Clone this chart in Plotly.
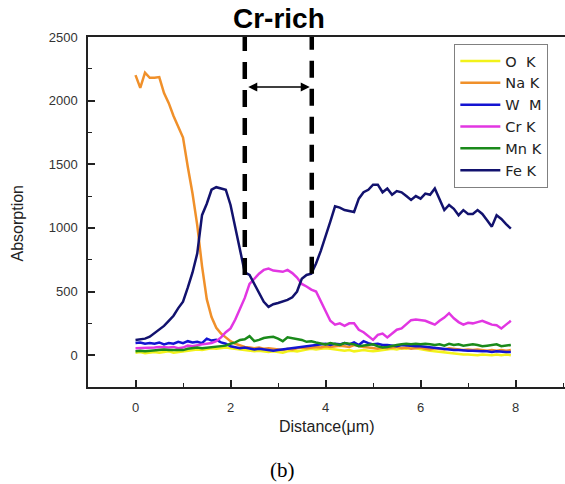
import plotly.graph_objects as go

distance = [0.0, 0.1, 0.2, 0.3, 0.4, 0.5, 0.6, 0.7, 0.8, 0.9,
            1.0, 1.1, 1.2, 1.3, 1.4, 1.5, 1.6, 1.7, 1.8, 1.9,
            2.0, 2.1, 2.2, 2.3, 2.4, 2.5, 2.6, 2.7, 2.8, 2.9,
            3.0, 3.1, 3.2, 3.3, 3.4, 3.5, 3.6, 3.7, 3.8, 3.9,
            4.0, 4.1, 4.2, 4.3, 4.4, 4.5, 4.6, 4.7, 4.8, 4.9,
            5.0, 5.1, 5.2, 5.3, 5.4, 5.5, 5.6, 5.7, 5.8, 5.9,
            6.0, 6.1, 6.2, 6.3, 6.4, 6.5, 6.6, 6.7, 6.8, 6.9,
            7.0, 7.1, 7.2, 7.3, 7.4, 7.5, 7.6, 7.7, 7.8, 7.9]

o_k = [20, 25, 15, 20, 25, 20, 25, 30, 20, 25,
       30, 35, 40, 45, 40, 50, 55, 50, 55, 60,
       55, 50, 45, 40, 35, 30, 35, 30, 25, 30,
       25, 20, 30, 35, 30, 40, 45, 50, 45, 50,
       55, 50, 45, 40, 35, 40, 30, 35, 40, 35,
       30, 35, 40, 45, 50, 45, 55, 50, 60, 55,
       45, 40, 35, 30, 25, 20, 15, 10, 10, 5,
       5, 0, 0, 5, 0, 0, 5, 0, 5, 0]

na_k = [2200, 2100, 2220, 2180, 2180, 2185, 2060, 1980, 1880, 1800,
        1710, 1480, 1270, 1020, 700, 440, 300, 215, 170, 140,
        110, 90, 75, 65, 60, 55, 60, 50, 55, 50,
        45, 40, 50, 45, 55, 60, 55, 60, 65, 60,
        70, 65, 70, 75, 70, 65, 80, 70, 65, 60,
        55, 50, 60, 55, 60, 65, 55, 60, 50, 55,
        60, 50, 45, 55, 50, 45, 55, 50, 45, 40,
        45, 40, 45, 40, 35, 40, 35, 40, 35, 40]

w_m = [95, 100, 90, 95, 90, 100, 85, 95, 90, 105,
       95, 110, 100, 105, 95, 130, 115, 120, 100, 90,
       70, 60, 55, 60, 55, 45, 50, 45, 40, 35,
       40, 45, 50, 55, 60, 65, 70, 75, 80, 80,
       90, 80, 90, 85, 95, 85, 100, 80, 110, 95,
       85, 90, 80, 80, 75, 70, 80, 75, 75, 70,
       70, 65, 60, 55, 55, 50, 45, 40, 40, 35,
       35, 35, 30, 30, 30, 25, 30, 25, 25, 25]

cr_k = [55, 55, 60, 55, 60, 65, 60, 60, 65, 55,
        60, 75, 70, 80, 85, 90, 95, 110, 140, 180,
        210, 280, 360, 450, 560, 600, 640, 670, 680, 665,
        660, 655, 670, 645, 610, 560, 540, 515, 500, 420,
        340, 270, 240, 250, 230, 250, 250, 200, 180, 150,
        120, 160, 170, 140, 170, 200, 210, 240, 275, 280,
        275, 270, 255, 240, 270, 295, 330, 290, 260, 240,
        255, 250, 260, 270, 255, 240, 235, 210, 240, 270]

mn_k = [30, 35, 30, 35, 40, 40, 45, 40, 40, 45,
        40, 50, 55, 60, 55, 60, 60, 65, 70, 75,
        90, 100, 120, 125, 150, 110, 120, 135, 140, 145,
        130, 110, 140, 135, 125, 120, 105, 110, 100, 90,
        85, 95, 90, 80, 95, 90, 85, 70, 75, 80,
        85, 70, 60, 65, 75, 80, 85, 90, 85, 90,
        85, 90, 85, 80, 85, 75, 90, 80, 85, 75,
        80, 85, 80, 70, 75, 80, 85, 70, 75, 80]

fe_k = [120, 125, 130, 145, 175, 200, 230, 270, 310, 370,
        420, 530, 650, 800, 1100, 1190, 1300, 1320, 1310, 1300,
        1180, 1000, 820, 650, 630, 560, 490, 420, 380, 400,
        410, 420, 435, 455, 500, 600, 630, 640, 720, 820,
        930, 1050, 1170, 1160, 1140, 1130, 1125, 1230, 1280, 1300,
        1340, 1340, 1280, 1310, 1260, 1290, 1280, 1250, 1220, 1250,
        1230, 1270, 1260, 1310, 1230, 1140, 1180, 1150, 1100, 1140,
        1110, 1110, 1140, 1110, 1060, 1010, 1100, 1070, 1030, 995]

series_names = ["O  K", "Na K", "W  M", "Cr K", "Mn K", "Fe K"]
series_values = [o_k, na_k, w_m, cr_k, mn_k, fe_k]
series_colors = ["#f2f21a", "#f0902a", "#1414d2", "#e236e2", "#1a8a1a", "#12126e"]

# Cr-rich region bounds (distance) and where the dashed markers end
region_x = [2.30, 3.71]
region_y_end = [630, 640]
arrow_y = 2107

fig = go.Figure()
for name, vals, col in zip(series_names, series_values, series_colors):
    fig.add_trace(go.Scatter(x=distance, y=vals, mode="lines", name=name,
                             line=dict(color=col, width=2.5)))

for xv, ye in zip(region_x, region_y_end):
    fig.add_shape(type="line", xref="x", yref="y", x0=xv, x1=xv, y0=ye, y1=2500,
                  line=dict(color="black", width=4.5, dash="17px,11px"))

fig.add_annotation(x=region_x[1], y=arrow_y, ax=region_x[0], ay=arrow_y,
                   xref="x", yref="y", axref="x", ayref="y", text="",
                   showarrow=True, arrowhead=2, arrowside="end+start",
                   arrowsize=1.2, arrowwidth=1.5, arrowcolor="black",
                   standoff=2, startstandoff=2)

fig.add_annotation(x=0.40, y=1.054, xref="paper", yref="paper", text="<b>Cr-rich</b>",
                   showarrow=False, font=dict(family="Liberation Sans", size=28, color="black"),
                   xanchor="center", yanchor="middle")
fig.add_annotation(x=-0.1468, y=0.47, xref="paper", yref="paper", text="Absorption",
                   textangle=-90, showarrow=False,
                   font=dict(family="Liberation Sans", size=16, color="#222"),
                   xanchor="center", yanchor="middle")
fig.add_annotation(x=0.501, y=-0.114, xref="paper", yref="paper", text="Distance(μm)",
                   showarrow=False, font=dict(family="Liberation Sans", size=16, color="#222"),
                   xanchor="center", yanchor="middle")
fig.add_annotation(x=0.407, y=-0.237, xref="paper", yref="paper", text="(b)",
                   showarrow=False, font=dict(family="Liberation Serif", size=21, color="black"),
                   xanchor="center", yanchor="middle")

fig.update_layout(
    width=565, height=484,
    margin=dict(l=88, r=0, t=37, b=97),
    paper_bgcolor="white", plot_bgcolor="white",
    showlegend=True,
    legend=dict(x=0.768, y=0.98, xanchor="left", yanchor="top",
                bgcolor="white", bordercolor="#808080", borderwidth=1,
                font=dict(family="DejaVu Sans", size=14.5, color="#222"),
                itemwidth=40, tracegroupgap=0),
    xaxis=dict(range=[-1, 9.04], showline=True, linecolor="#222", linewidth=1.5,
               mirror=True, showgrid=False, zeroline=False,
               tick0=0, dtick=2, ticks="inside", ticklen=7, tickwidth=1.5, tickcolor="#222",
               minor=dict(ticks="inside", ticklen=4, dtick=1, tick0=0, tickcolor="#222", tickwidth=1.2),
               tickfont=dict(family="Liberation Sans", size=13, color="#333"),
               ticklabelstandoff=8),
    yaxis=dict(range=[-250, 2500], showline=True, linecolor="#222", linewidth=1.5,
               mirror=False, showgrid=False, zeroline=False,
               tick0=0, dtick=500, ticks="inside", ticklen=7, tickwidth=1.5, tickcolor="#222",
               minor=dict(ticks="inside", ticklen=4, dtick=250, tick0=0, tickcolor="#222", tickwidth=1.2),
               tickfont=dict(family="Liberation Sans", size=13, color="#333"),
               ticklabelstandoff=6),
)

fig.write_html("out.html")
